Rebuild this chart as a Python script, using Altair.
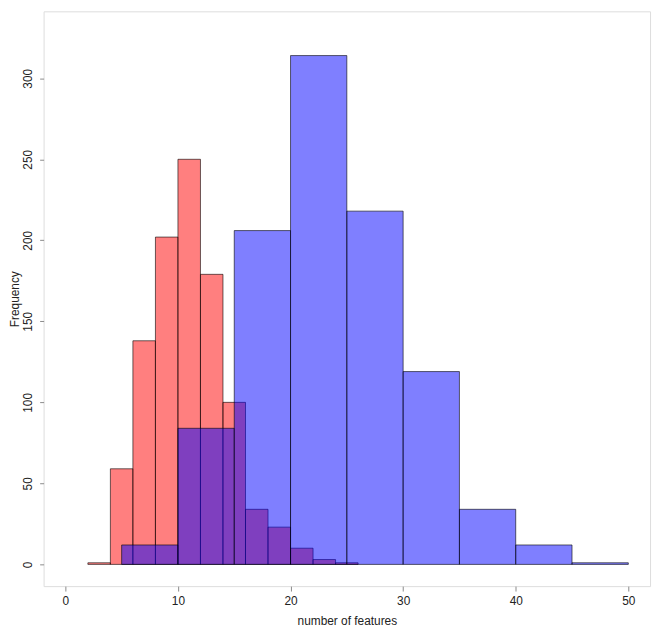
import altair as alt
import pandas as pd

# Red histogram (bin width 2)
red_start = [2, 4, 6, 8, 10, 12, 14, 16, 18, 20, 22, 24]
red_end = [4, 6, 8, 10, 12, 14, 16, 18, 20, 22, 24, 26]
red_count = [1, 59, 138, 202, 250, 179, 100, 34, 23, 10, 3, 1]

# Blue histogram (bin width 5)
blue_start = [5, 10, 15, 20, 25, 30, 35, 40, 45]
blue_end = [10, 15, 20, 25, 30, 35, 40, 45, 50]
blue_count = [12, 84, 206, 314, 218, 119, 34, 12, 1]

x_ticks = [0, 10, 20, 30, 40, 50]
y_ticks = [0, 50, 100, 150, 200, 250, 300]

red_df = pd.DataFrame({"start": red_start, "end": red_end, "count": red_count})
blue_df = pd.DataFrame({"start": blue_start, "end": blue_end, "count": blue_count})

xscale = alt.Scale(domain=[-1.93, 51.93], nice=False, zero=False)
yscale = alt.Scale(domain=[-13.4, 341.3], nice=False, zero=False)

xaxis = alt.Axis(values=x_ticks, title="number of features", domain=False,
                 grid=False, tickColor="#8a8a8a", tickSize=5, tickWidth=1,
                 labelPadding=5, labelFontSize=12, labelColor="#222222",
                 labelFont="Liberation Sans", titleFont="Liberation Sans",
                 titleFontSize=12, titleFontWeight="normal", titleColor="#222222",
                 titlePadding=9)
yaxis = alt.Axis(values=y_ticks, title="Frequency", domain=False, grid=False,
                 tickColor="#8a8a8a", tickSize=4, tickWidth=1,
                 labelPadding=5, labelFontSize=12, labelColor="#222222",
                 labelAngle=270, labelAlign="center", labelBaseline="bottom",
                 labelFont="Liberation Sans", titleFont="Liberation Sans",
                 titleFontSize=12, titleFontWeight="normal", titleColor="#222222",
                 titlePadding=0)

red = alt.Chart(red_df).mark_rect(
    fill="#ff0000", fillOpacity=0.5, stroke="#000000", strokeWidth=0.8, strokeOpacity=0.75
).encode(
    x=alt.X("start:Q", scale=xscale, axis=xaxis),
    x2="end:Q",
    y=alt.Y("count:Q", scale=yscale, axis=yaxis),
    y2=alt.datum(0),
)

blue = alt.Chart(blue_df).mark_rect(
    fill="#0000ff", fillOpacity=0.5, stroke="#000000", strokeWidth=0.8, strokeOpacity=0.75
).encode(
    x=alt.X("start:Q", scale=xscale),
    x2="end:Q",
    y=alt.Y("count:Q", scale=yscale),
    y2=alt.datum(0),
)

chart = alt.layer(red, blue).properties(
    width=613, height=581,
    autosize=alt.AutoSizeParams(type="none"),
    padding={"left": 36, "top": 0, "right": 5, "bottom": 42},
).configure_view(
    stroke="#8f8f8f", strokeWidth=1.5
).configure(background="white")

chart.save("out.html", embed_options={"renderer": "svg", "actions": False})
